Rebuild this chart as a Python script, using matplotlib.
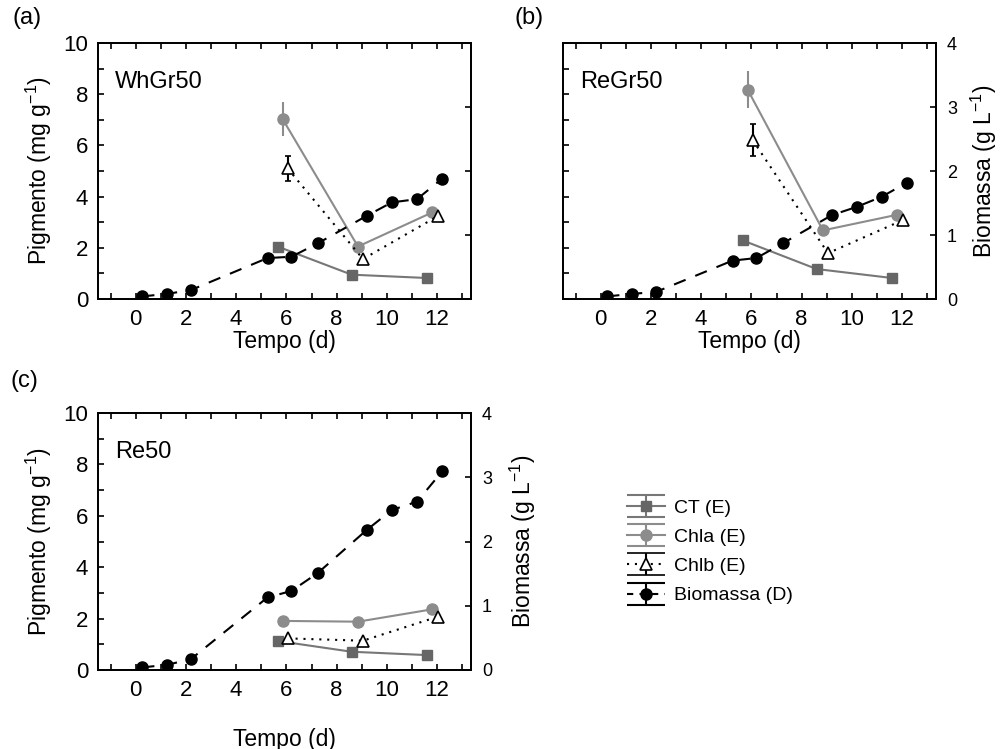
import matplotlib
matplotlib.use("Agg")
import matplotlib.pyplot as plt
import numpy as np
from matplotlib.legend_handler import HandlerErrorbar

plt.rcParams["font.family"] = ["Liberation Sans", "DejaVu Sans"]
plt.rcParams["mathtext.fontset"] = "custom"
plt.rcParams["mathtext.rm"] = "Liberation Sans"
plt.rcParams["mathtext.default"] = "regular"

# sampling days (pigments are slightly offset in the original)
t_bio = [0.25, 1.25, 2.2, 5.25, 6.2, 7.25, 9.2, 10.2, 11.2, 12.2]
t_ct = [5.65, 8.6, 11.6]
t_chla = [5.85, 8.85, 11.8]
t_chlb = [6.05, 9.05, 12.05]

# (a) WhGr50
bio_a = [0.04, 0.08, 0.14, 0.64, 0.66, 0.87, 1.30, 1.51, 1.56, 1.88]
ct_a = [2.05, 0.95, 0.82]
chla_a = [7.03, 2.05, 3.38]
chla_err_a = [0.66, 0, 0]
chlb_a = [5.1, 1.56, 3.25]
chlb_err_a = [0.5, 0, 0]

# (b) ReGr50
bio_b = [0.04, 0.08, 0.11, 0.60, 0.64, 0.87, 1.31, 1.44, 1.60, 1.82]
ct_b = [2.29, 1.17, 0.82]
chla_b = [8.18, 2.68, 3.29]
chla_err_b = [0.71, 0, 0]
chlb_b = [6.21, 1.79, 3.09]
chlb_err_b = [0.62, 0, 0]

# (c) Re50
bio_c = [0.04, 0.08, 0.17, 1.13, 1.23, 1.51, 2.18, 2.49, 2.62, 3.09]
ct_c = [1.13, 0.71, 0.58]
chla_c = [1.91, 1.88, 2.36]
chla_err_c = [0, 0, 0]
chlb_c = [1.23, 1.14, 2.08]
chlb_err_c = [0, 0, 0]

labels = ["CT (E)", "Chla (E)", "Chlb (E)", "Biomassa (D)"]

C_CT = "#666666"
C_CT_LINE = "#777777"
C_CHLA = "#8c8c8c"
LW = 1.5
SPINE_W = 1.3
FS_TICK = 16
FS_LAB = 16.5


def style_axes(ax, tw):
    ax.set_xlim(-1.5, 13.35)
    ax.set_ylim(0, 10)
    ax.set_xticks(range(0, 13, 2))
    ax.set_xticks(range(-1, 14), minor=True)
    ax.set_yticks(range(0, 11, 2))
    ax.set_yticks(range(0, 11), minor=True)
    ax.tick_params(which="both", direction="in", top=True, right=False,
                   length=4, width=1.2, labelsize=FS_TICK, pad=7)
    tw.set_ylim(0, 4)
    tw.set_yticks(range(0, 5))
    tw.tick_params(direction="in", length=4, width=1.2, labelsize=13, pad=8)
    for a in (ax, tw):
        for s in a.spines.values():
            s.set_linewidth(SPINE_W)


def draw_panel(ax, bio, ct, chla, chla_err, chlb, chlb_err, name):
    ax.plot(t_ct, ct, "-", color=C_CT_LINE, lw=LW, marker="s", ms=7.5,
            mfc=C_CT, mec=C_CT)
    ax.errorbar(t_chla, chla, yerr=chla_err, fmt="-o", color=C_CHLA, lw=LW,
                ms=8, elinewidth=1.5, capsize=0)
    ax.errorbar(t_chlb, chlb, yerr=chlb_err, fmt="^", ls=(0, (1, 2.8)),
                color="black", lw=LW, ms=8, mfc="white", mec="black",
                mew=1.2, elinewidth=1.5, capsize=2)
    tw = ax.twinx()
    tw.plot(t_bio, bio, marker="o", color="black", lw=LW, ms=8,
            ls=(0, (6, 5)))
    style_axes(ax, tw)
    ax.text(0.045, 0.848, name, transform=ax.transAxes, fontsize=17,
            ha="left", va="center")
    return tw


fig = plt.figure(figsize=(10.02, 7.49), dpi=100)
W, H = 1002, 749
ax_a = fig.add_axes([98 / W, 1 - 299 / H, 373 / W, 256 / H])
ax_b = fig.add_axes([563 / W, 1 - 299 / H, 373 / W, 256 / H])
ax_c = fig.add_axes([98 / W, 1 - 670 / H, 373 / W, 257 / H])

tw_a = draw_panel(ax_a, bio_a, ct_a, chla_a, chla_err_a, chlb_a, chlb_err_a, "WhGr50")
tw_b = draw_panel(ax_b, bio_b, ct_b, chla_b, chla_err_b, chlb_b, chlb_err_b, "ReGr50")
tw_c = draw_panel(ax_c, bio_c, ct_c, chla_c, chla_err_c, chlb_c, chlb_err_c, "Re50")

tw_a.tick_params(labelright=False)
ax_b.tick_params(labelleft=False)

ylab = "Pigmento (mg g$^{-1}$)"
blab = "Biomassa (g L$^{-1}$)"
for ax in (ax_a, ax_c):
    ax.set_ylabel(ylab, fontsize=FS_LAB)
    ax.yaxis.set_label_coords(-0.117, 0.5)
for tw, x in ((tw_b, 1.088), (tw_c, 1.10)):
    tw.set_ylabel(blab, fontsize=FS_LAB, rotation=90)
    tw.yaxis.set_label_coords(x, 0.5)

for ax, y in ((ax_a, -0.122), (ax_b, -0.122), (ax_c, -0.225)):
    ax.set_xlabel("Tempo (d)", fontsize=FS_LAB)
    ax.xaxis.set_label_coords(0.5, y)

fig.text(12 / W, 1 - 18 / H, "(a)", fontsize=17, ha="left", va="center")
fig.text(515 / W, 1 - 18 / H, "(b)", fontsize=17, ha="left", va="center")
fig.text(10 / W, 1 - 381 / H, "(c)", fontsize=17, ha="left", va="center")

# legend proxies (error-bar style handles)
h_ct = ax_c.errorbar([np.nan], [np.nan], yerr=[np.nan], fmt="-s",
                     color=C_CT_LINE, mfc=C_CT, mec=C_CT, ms=7.5, lw=LW,
                     capsize=13.7, elinewidth=LW, capthick=LW)
h_chla = ax_c.errorbar([np.nan], [np.nan], yerr=[np.nan], fmt="-o",
                       color=C_CHLA, ms=8, lw=LW, capsize=13.7,
                       elinewidth=LW, capthick=LW)
h_chlb = ax_c.errorbar([np.nan], [np.nan], yerr=[np.nan], fmt="^",
                       ls=(0, (1, 2.8)), color="black", mfc="white",
                       mec="black", mew=1.2, ms=8, lw=LW, capsize=13.7,
                       elinewidth=LW, capthick=LW)
h_bio = ax_c.errorbar([np.nan], [np.nan], yerr=[np.nan], fmt="o",
                      ls=(0, (3, 3)), color="black", ms=8, lw=LW,
                      capsize=13.7, elinewidth=LW, capthick=LW)
ax_c.set_xlim(-1.5, 13.35)
ax_c.set_ylim(0, 10)

fig.legend([h_ct, h_chla, h_chlb, h_bio], labels, loc="upper left",
           bbox_to_anchor=(627 / W, 1 - 499 / H), frameon=False,
           fontsize=14, handlelength=1.95, handletextpad=0.45,
           labelspacing=0.6, borderpad=0, borderaxespad=0,
           handler_map={type(h_ct): HandlerErrorbar(xerr_size=0.5, yerr_size=0.56)})

fig.savefig("out.png", dpi=100)
